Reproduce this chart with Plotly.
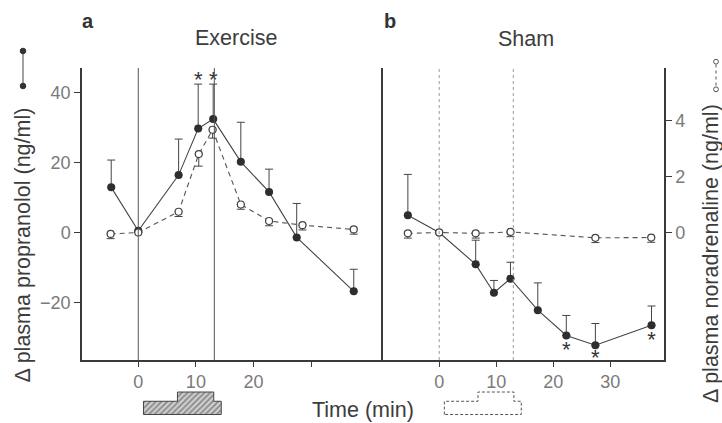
import plotly.graph_objects as go

# ---------------- data ----------------
# Panel a: exercise
t_prop_a = [-4.7, 0, 7.0, 10.4, 13.0, 17.8, 22.7, 27.5, 37.4]
prop_a = [12.9, 0.5, 16.4, 29.7, 32.4, 20.2, 11.6, -1.4, -16.8]
prop_a_se = [7.8, 0, 10.3, 12.7, 10.0, 11.3, 6.5, 9.7, 6.3]
t_nor_a = [-4.8, 0, 7.0, 10.5, 12.9, 17.8, 22.7, 28.5, 37.4]
nor_a = [-0.05, 0.0, 0.74, 2.8, 3.67, 1.0, 0.41, 0.26, 0.11]
nor_a_se = [0.17, 0, 0.17, 0.43, 0.3, 0.17, 0.17, 0.17, 0.17]
ast_a_t = [10.4, 13.0]
ast_a_y = [43.1, 43.1]

# Panel b: sham
t_prop_b = [-5.5, 0, 6.4, 9.6, 12.5, 17.3, 22.3, 27.4, 37.25]
prop_b = [4.9, 0, -9.1, -17.2, -13.2, -22.2, -29.4, -32.2, -26.5]
prop_b_se = [11.7, 0, 6.9, 3.5, 4.7, 7.8, 5.7, 6.2, 5.5]
t_nor_b = [-5.5, 0, 6.4, 12.5, 27.4, 37.2]
nor_b = [-0.03, 0, -0.03, 0.02, -0.19, -0.18]
nor_b_se = [0.17, 0, 0.17, 0.17, 0.17, 0.17]
ast_b_t = [22.3, 27.4, 37.25]
ast_b_y = [-34.0, -36.4, -31.2]

# exercise protocol (min) and relative workload levels
start_a, stop_a = 0, 13.2
start_b, stop_b = 0, 13.0
stage_t = [0.9, 6.8, 13.1, 14.4]
stage_level = [1.0, 1.7]

x_ticks_a = [0, 10, 20, 30]
x_labels_a = ["0", "10", "20", ""]
x_ticks_b = [0, 10, 20, 30]
y_ticks = [-20, 0, 20, 40]
y_labels = ["\u221220", "0", "20", "40"]
y2_ticks = [0, 2, 4]

# --------------- figure ---------------
FONT = "Liberation Sans, Arial, sans-serif"
TICK_COL = "#7a7a7a"
TXT_COL = "#3c3c3c"
LINE_COL = "#3a3a3a"

W, H = 722, 423
ML, MR, MT, MB = 82, 58, 68, 0
PW, PH = W - ML - MR, H - MT - MB


def px(xp):
    return (xp - ML) / PW


def py(yp):
    return (H - MB - yp) / PH


split = px(383.3)
main_dom = [py(360), 1]
prot_dom = [py(415.8), py(390.7)]

fig = go.Figure()


def solid(x, y, se, xa, ya):
    fig.add_trace(go.Scatter(
        x=x, y=y, xaxis=xa, yaxis=ya, mode="lines+markers",
        line=dict(color="#444", width=1.1),
        marker=dict(color="#2e2e2e", size=8),
        error_y=dict(type="data", symmetric=False, array=se,
                     arrayminus=[0] * len(se), color="#444",
                     thickness=1, width=4),
        showlegend=False, cliponaxis=False))


def open_(x, y, se, xa, ya):
    fig.add_trace(go.Scatter(
        x=x, y=y, xaxis=xa, yaxis=ya, mode="lines+markers",
        line=dict(color="#555", width=1.1, dash="5px,4px"),
        marker=dict(color="white", size=7, line=dict(color="#444", width=1.2)),
        error_y=dict(type="data", symmetric=False, array=[0] * len(se),
                     arrayminus=se, color="#444", thickness=1, width=4),
        showlegend=False, cliponaxis=False))


open_(t_nor_a, nor_a, nor_a_se, "x", "y4")
solid(t_prop_a, prop_a, prop_a_se, "x", "y")
open_(t_nor_b, nor_b, nor_b_se, "x2", "y3")
solid(t_prop_b, prop_b, prop_b_se, "x2", "y2")

for xs, ys, xa, ya in [(ast_a_t, ast_a_y, "x", "y"), (ast_b_t, ast_b_y, "x2", "y2")]:
    fig.add_trace(go.Scatter(
        x=xs, y=ys, xaxis=xa, yaxis=ya, mode="text", text=["*"] * len(xs),
        textposition="middle center",
        textfont=dict(family=FONT, size=22, color="#333"),
        showlegend=False, cliponaxis=False))

# protocol boxes
poly_x = [stage_t[0], stage_t[0], stage_t[1], stage_t[1], stage_t[2], stage_t[2],
          stage_t[3], stage_t[3], stage_t[0]]
poly_y = [0, stage_level[0], stage_level[0], stage_level[1], stage_level[1],
          stage_level[0], stage_level[0], 0, 0]
fig.add_trace(go.Scatter(
    x=poly_x, y=poly_y, xaxis="x", yaxis="y5", mode="lines", fill="toself",
    fillcolor="rgba(0,0,0,0)",
    fillpattern=dict(shape="/", size=4, solidity=0.45, fgcolor="#444", bgcolor="#cfcfcf"),
    line=dict(color="#444", width=1), showlegend=False, hoverinfo="skip"))
fig.add_trace(go.Scatter(
    x=poly_x, y=poly_y, xaxis="x2", yaxis="y6", mode="lines",
    line=dict(color="#555", width=1, dash="3px,2px"), showlegend=False, hoverinfo="skip"))

axis_common = dict(showgrid=False, zeroline=False, showline=True, linecolor=LINE_COL,
                   linewidth=1.5, ticks="outside", tickcolor=LINE_COL,
                   tickfont=dict(family=FONT, size=18, color=TICK_COL))

fig.update_layout(
    width=W, height=H, margin=dict(l=ML, r=MR, t=MT, b=MB, pad=0),
    paper_bgcolor="white", plot_bgcolor="white",
    xaxis=dict(domain=[0, split], anchor="y", range=[-9.77, 42.53], ticklen=5,
               tickvals=x_ticks_a, ticktext=x_labels_a, **axis_common),
    xaxis2=dict(domain=[split, 1], anchor="y2", range=[-9.81, 39.44], ticklen=5,
                tickvals=x_ticks_b, **axis_common),
    yaxis=dict(domain=main_dom, anchor="x", range=[-36.43, 47.0], ticklen=6,
               tickvals=y_ticks, ticktext=y_labels, **axis_common),
    yaxis2=dict(domain=main_dom, anchor="x2", range=[-36.43, 47.0],
                showticklabels=False, showgrid=False, zeroline=False, showline=True,
                linecolor=LINE_COL, linewidth=1.5, ticks=""),
    yaxis3=dict(overlaying="y2", anchor="x2", side="right", range=[-4.554, 5.875],
                ticklen=6, tickvals=y2_ticks, **axis_common),
    yaxis4=dict(overlaying="y", anchor="x", range=[-4.554, 5.875], visible=False),
    yaxis5=dict(domain=prot_dom, anchor="x", range=[-0.1, 1.8], visible=False),
    yaxis6=dict(domain=prot_dom, anchor="x2", range=[-0.1, 1.8], visible=False),
)

# vertical protocol lines
for t in (start_a, stop_a):
    fig.add_shape(type="line", xref="x", yref="y domain", x0=t, x1=t, y0=0, y1=1,
                  line=dict(color="#555", width=1))
for t in (start_b, stop_b):
    fig.add_shape(type="line", xref="x2", yref="y2 domain", x0=t, x1=t, y0=0, y1=1,
                  line=dict(color="#999", width=1, dash="dot"))

# legend glyphs beside the axis titles
rx, ry = 2.8 / PW, 2.8 / PH
lx = px(23)
fig.add_shape(type="line", xref="paper", yref="paper", x0=lx, x1=lx, y0=py(51), y1=py(86),
              line=dict(color="#444", width=1))
for yy in (51, 86):
    fig.add_shape(type="circle", xref="paper", yref="paper", x0=lx - rx, x1=lx + rx,
                  y0=py(yy) - ry, y1=py(yy) + ry, fillcolor="#333", line=dict(color="#333", width=1))
gx = px(716)
r2x, r2y = 2.4 / PW, 2.4 / PH
fig.add_shape(type="line", xref="paper", yref="paper", x0=gx, x1=gx, y0=py(64.5), y1=py(86.5),
              line=dict(color="#555", width=1, dash="3px,3px"))
for yy in (61.7, 89.3):
    fig.add_shape(type="circle", xref="paper", yref="paper", x0=gx - r2x, x1=gx + r2x,
                  y0=py(yy) - r2y, y1=py(yy) + r2y, fillcolor="white", line=dict(color="#555", width=1))

TF = dict(family=FONT, size=21.5, color=TXT_COL)
ann = [
    dict(text="<b>a</b>", x=px(88), y=py(21), font=dict(family=FONT, size=20, color="#333")),
    dict(text="<b>b</b>", x=px(390), y=py(21), font=dict(family=FONT, size=20, color="#333")),
    dict(text="Exercise", x=px(236), y=py(38), font=TF),
    dict(text="Sham", x=px(526), y=py(39), font=TF),
    dict(text="Time (min)", x=px(363), y=py(410), font=TF),
    dict(text="\u0394 plasma propranolol (ng/ml)", x=px(22.5), y=py(245), textangle=-90, font=TF),
    dict(text="\u0394 plasma noradrenaline (ng/ml)", x=px(711), y=py(254), textangle=-90, font=TF),
]
for a in ann:
    fig.add_annotation(xref="paper", yref="paper", showarrow=False,
                       xanchor="center", yanchor="middle", **a)

fig.write_html(
    "out.html",
    config={"displayModeBar": False},
    post_script="document.body.style.margin='0px';document.body.style.overflow='hidden';",
)
